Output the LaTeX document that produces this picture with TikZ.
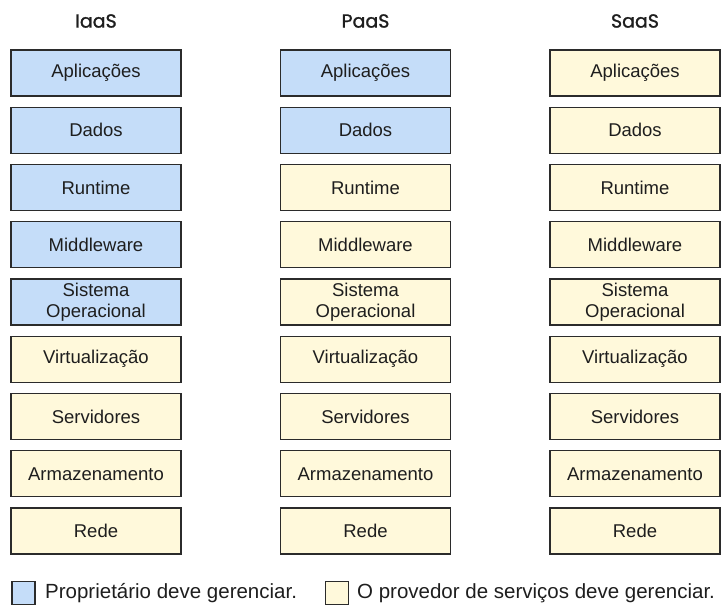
\documentclass[tikz,border=0pt]{standalone}
\usepackage{fontspec}
\setmainfont{Liberation Sans}
\newfontfamily\headfont[FakeBold=1.2]{Poppins}
\definecolor{ownblue}{HTML}{C5DDF9}
\definecolor{provyellow}{HTML}{FFF9DB}
\definecolor{edge}{HTML}{2B2B2B}
\definecolor{txt}{HTML}{1E1E1E}
\tikzset{
  layer/.style={draw=edge, line width=1.2pt, minimum width=170pt, minimum height=46pt, inner sep=0pt, align=center, text=txt, font=\fontsize{18.5}{21}\selectfont},
  own/.style={layer, fill=ownblue},
  prov/.style={layer, fill=provyellow},
  head/.style={text=txt, font=\headfont\fontsize{19}{22}\selectfont},
  legsq/.style={draw=edge, line width=1.2pt, minimum size=23pt, inner sep=0pt},
  legtxt/.style={text=txt, font=\fontsize{20.5}{24}\selectfont, anchor=west, inner sep=0pt}
}
\begin{document}
\begin{tikzpicture}[x=1pt,y=-1pt]
\useasboundingbox (0,0) rectangle (721,606);
\node[head] (hI) at (96,21) {IaaS};
\node[head] (hP) at (365.5,21) {PaaS};
\node[head] (hS) at (635,21) {SaaS};
\foreach \lbl [count=\i from 0] in {Aplicações,Dados,Runtime,Middleware,{Sistema\\Operacional},Virtualização,Servidores,Armazenamento,Rede}{
  \pgfmathsetmacro{\yy}{73+\i*57.25}
  \ifnum\i<5
    \node[own] (i\i) at (96,\yy) {\lbl};
  \else
    \node[prov] (i\i) at (96,\yy) {\lbl};
  \fi
  \ifnum\i<2
    \node[own] (p\i) at (365.5,\yy) {\lbl};
  \else
    \node[prov] (p\i) at (365.5,\yy) {\lbl};
  \fi
  \node[prov] (s\i) at (635,\yy) {\lbl};
}
\node[legsq, fill=ownblue] (lb) at (23.5,593) {};
\node[legtxt] (lbt) at (45,593) {Proprietário deve gerenciar.};
\node[legsq, fill=provyellow] (ly) at (337,593) {};
\node[legtxt] (lyt) at (357,593) {O provedor de serviços deve gerenciar.};
\end{tikzpicture}
\end{document}
